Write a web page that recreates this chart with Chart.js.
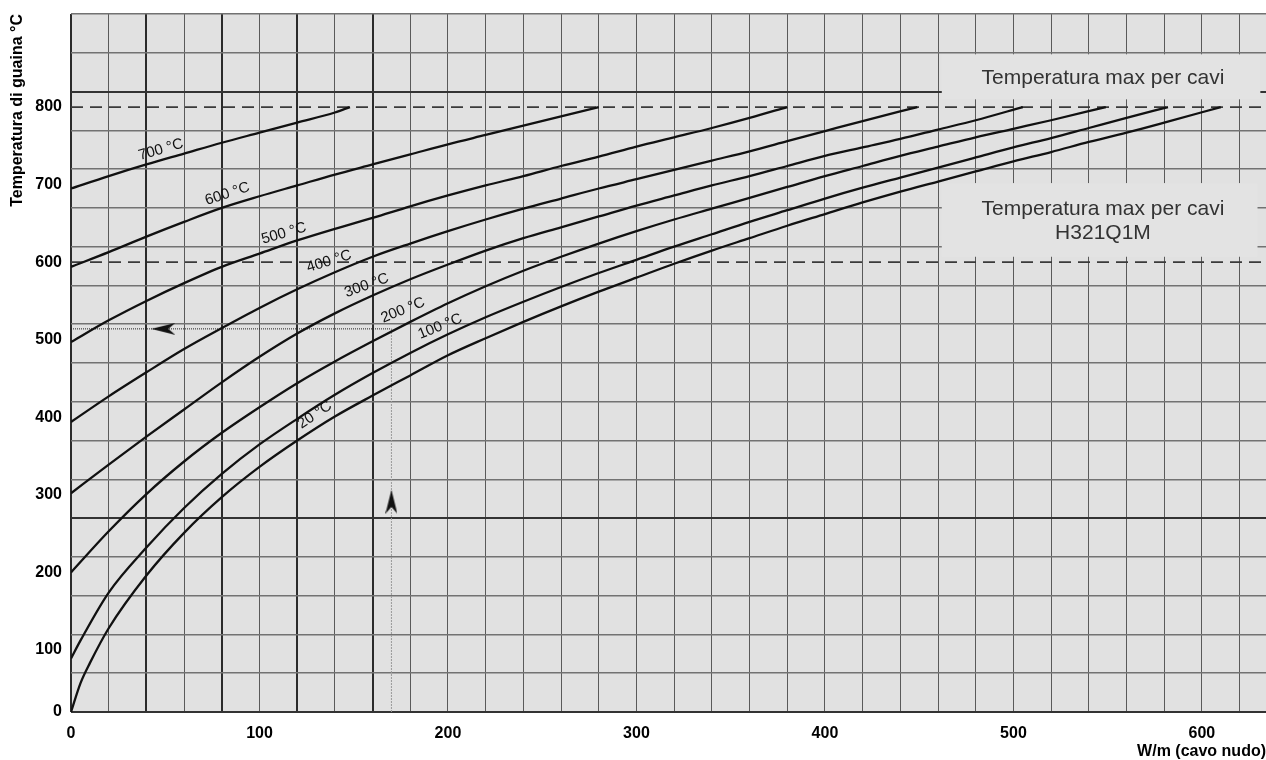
<!DOCTYPE html>
<html>
<head>
<meta charset="utf-8">
<script src="https://cdn.jsdelivr.net/npm/chart.js@4.4.1/dist/chart.umd.min.js"></script>
<style>
  html, body { margin: 0; padding: 0; background: #fff; overflow: hidden; }
  #chart { display: block; }
</style>
</head>
<body>
<canvas id="chart" width="1266" height="760"></canvas>
<script>
// sheath temperature (°C) against power (W/m), one curve per ambient temperature
const w700 = [0, 20, 40, 60, 80, 100, 120, 140, 148]
const t700 = [695, 711, 726, 740, 754, 767, 780, 793, 800]

const w600 = [0, 20, 40, 60, 80, 100, 120, 140, 160, 180, 200, 220, 240, 260, 280]
const t600 = [594, 613, 633, 652, 670, 685, 699, 713, 726, 739, 752, 764, 776, 788, 800]

const w500 = [0, 20, 40, 60, 80, 100, 120, 140, 160, 180, 200, 220, 240, 260, 280, 300, 320, 340, 360, 380]
const t500 = [497, 525, 550, 573, 594, 611, 628, 643, 657, 672, 686, 699, 711, 724, 736, 749, 761, 773, 786, 800]

const w400 = [0, 20, 40, 60, 80, 100, 120, 140, 160, 180, 200, 220, 240, 260, 280, 300, 320, 340, 360, 380, 400, 420, 449]
const t400 = [394, 427, 458, 488, 515, 541, 565, 587, 607, 624, 640, 655, 669, 682, 695, 707, 719, 731, 743, 756, 769, 782, 800]

const w300 = [0, 20, 40, 60, 80, 100, 120, 140, 160, 180, 200, 220, 240, 260, 280, 300, 320, 340, 360, 380, 400, 420, 440, 460, 480, 505]
const t300 = [302, 339, 375, 410, 445, 478, 508, 534, 557, 578, 597, 615, 631, 645, 659, 673, 686, 699, 711, 724, 737, 748, 759, 771, 783, 800]

const w200 = [0, 20, 40, 60, 80, 100, 120, 140, 160, 180, 200, 220, 240, 260, 280, 300, 320, 340, 360, 380, 400, 420, 440, 460, 480, 500, 520, 549]
const t200 = [200, 253, 301, 343, 380, 413, 444, 472, 498, 523, 547, 569, 589, 607, 624, 640, 655, 669, 683, 697, 711, 724, 737, 749, 761, 772, 783, 800]

const w100 = [0, 5, 20, 40, 60, 80, 100, 120, 140, 160, 180, 200, 220, 240, 260, 280, 300, 320, 340, 360, 380, 400, 420, 440, 460, 480, 500, 520, 540, 560, 582]
const t100 = [89, 112, 174, 232, 283, 327, 365, 398, 429, 457, 483, 507, 529, 549, 568, 586, 603, 620, 636, 652, 667, 682, 696, 709, 722, 735, 748, 760, 773, 786, 800]

const w20 = [0, 5, 10, 20, 40, 60, 80, 100, 120, 140, 160, 180, 200, 220, 240, 260, 280, 300, 320, 340, 360, 380, 400, 420, 440, 460, 480, 500, 520, 540, 560, 580, 610]
const t20 = [20, 57, 83, 128, 196, 251, 297, 336, 370, 401, 428, 454, 480, 502, 523, 543, 562, 580, 598, 615, 631, 647, 662, 677, 691, 704, 717, 730, 742, 755, 767, 780, 800]

const curves = [[w700, t700], [w600, t600], [w500, t500], [w400, t400], [w300, t300], [w200, t200], [w100, t100], [w20, t20]]
const curveNames = ['700 °C', '600 °C', '500 °C', '400 °C', '300 °C', '200 °C', '100 °C', '20 °C']

// max cable temperatures (dashed)
const limitTemps = [800, 600]

// worked example: 170 W/m read on the 200 °C curve
const exampleW = 170
const exampleT = 514
const arrowW = [49, 170]
const arrowT = [514, 291]
const arrowRot = [-90, 0]

// axes
const xMin = 0
const xMax = 634
const yMin = 20
const yMax = 920
const xGrid = []
for (let w = 0; w <= 620; w += 20) xGrid.push(w)
const xThick = [0, 40, 80, 120, 160]
const yTickValues = [20, 100, 200, 300, 400, 500, 600, 700, 800]
const yTickLabels = ['0', '100', '200', '300', '400', '500', '600', '700', '800']
const yGrid = []
for (let t = yMin; t <= yMax; t += 50) yGrid.push(t)
const yThick = [20, 270, 820]

// label anchors in data units
const labelW = [47.7, 83, 113, 136.9, 156.9, 176.1, 195.8, 129.4]
const labelT = [745, 688, 637, 601, 570, 538, 517, 403]
const labelAngle = [-16, -18, -16, -17, -20, -22, -22, -34]

const noteBoxes = [
    { w0: 462, w1: 631, t0: 810, t1: 868, lines: ['Temperatura max per cavi'] },
    { w0: 462, w1: 629.5, t0: 607, t1: 702, lines: ['Temperatura max per cavi', 'H321Q1M'] },
]

Chart.defaults.font.family = "'Liberation Sans', Arial, sans-serif"
Chart.defaults.color = '#000'

function toPoints(xs, ys) {
    return xs.map((x, i) => ({ x: x, y: ys[i] }))
}

// arrow head image, pointing up
const arrowImg = document.createElement('canvas')
arrowImg.width = 12
arrowImg.height = 24
{
    const c = arrowImg.getContext('2d')
    c.fillStyle = '#111'
    c.beginPath()
    c.moveTo(6, 0)
    c.lineTo(12, 24)
    c.lineTo(6, 17)
    c.lineTo(0, 24)
    c.closePath()
    c.fill()
}

const datasets = []
curves.forEach((c, i) => {
    datasets.push({
        label: curveNames[i],
        data: toPoints(c[0], c[1]),
        borderColor: '#111',
        borderWidth: 2.3,
        pointRadius: 0,
        cubicInterpolationMode: 'monotone',
        fill: false,
        order: 1,
    })
})
limitTemps.forEach((t) => {
    datasets.push({
        label: 'max ' + t,
        data: [{ x: xMin, y: t }, { x: xMax, y: t }],
        borderColor: '#3a3a3a',
        borderWidth: 1.8,
        borderDash: [12, 7],
        pointRadius: 0,
        order: 2,
    })
})
datasets.push({
    label: 'example h',
    data: [{ x: xMin, y: exampleT }, { x: exampleW, y: exampleT }],
    borderColor: '#222',
    borderWidth: 1,
    borderDash: [1, 1],
    pointRadius: 0,
    order: 3,
})
datasets.push({
    label: 'example v',
    data: [{ x: exampleW, y: yMin }, { x: exampleW, y: exampleT }],
    borderColor: '#9a9a9a',
    borderWidth: 1,
    borderDash: [2, 1],
    pointRadius: 0,
    order: 3,
})
datasets.push({
    type: 'scatter',
    label: 'arrows',
    data: toPoints(arrowW, arrowT),
    pointStyle: arrowImg,
    rotation: arrowRot,
    pointRadius: 6,
    showLine: false,
    order: 0,
})

const plotBg = {
    id: 'plotBg',
    beforeDraw(chart) {
        const { ctx, chartArea: a } = chart
        ctx.save()
        ctx.fillStyle = '#e1e1e1'
        ctx.fillRect(a.left, a.top, a.width, a.height)
        ctx.restore()
    }
}

const notes = {
    id: 'notes',
    beforeDatasetsDraw(chart) {
        const { ctx, scales } = chart
        ctx.save()
        noteBoxes.forEach((b) => {
            const x0 = scales.x.getPixelForValue(b.w0)
            const x1 = scales.x.getPixelForValue(b.w1)
            const y0 = scales.y.getPixelForValue(b.t1)
            const y1 = scales.y.getPixelForValue(b.t0)
            ctx.fillStyle = '#e3e3e3'
            ctx.fillRect(x0, y0, x1 - x0, y1 - y0)
            ctx.fillStyle = '#333'
            ctx.font = "21px 'Liberation Sans', Arial, sans-serif"
            ctx.textAlign = 'center'
            ctx.textBaseline = 'middle'
            const cx = scales.x.getPixelForValue(547.5)
            const cy = (y0 + y1) / 2
            b.lines.forEach((line, i) => {
                ctx.fillText(line, cx, cy + (i - (b.lines.length - 1) / 2) * 24 + 1)
            })
        })
        ctx.restore()
    },
    afterDatasetsDraw(chart) {
        const { ctx, scales } = chart
        ctx.save()
        ctx.fillStyle = '#111'
        ctx.font = "15px 'Liberation Sans', Arial, sans-serif"
        ctx.textAlign = 'center'
        ctx.textBaseline = 'middle'
        curveNames.forEach((name, i) => {
            ctx.save()
            ctx.translate(scales.x.getPixelForValue(labelW[i]), scales.y.getPixelForValue(labelT[i]))
            ctx.rotate(labelAngle[i] * Math.PI / 180)
            ctx.fillText(name, 0, 0)
            ctx.restore()
        })
        ctx.restore()
    }
}

function noPadX(axis, h) {
    axis.height = h
    axis.paddingLeft = 0
    axis.paddingRight = 0
}

function noPadY(axis, w) {
    axis.width = w
    axis.paddingTop = 0
    axis.paddingBottom = 0
}

const ctx = document.getElementById('chart')
new Chart(ctx, {
    type: 'line',
    data: { datasets: datasets },
    plugins: [plotBg, notes],
    options: {
        responsive: false,
        animation: false,
        devicePixelRatio: 1,
        layout: { autoPadding: false, padding: { top: 14, left: 0, right: 0, bottom: 0 } },
        plugins: {
            legend: { display: false },
            tooltip: { enabled: false },
        },
        scales: {
            x: {
                type: 'linear',
                min: xMin,
                max: xMax,
                afterBuildTicks: (axis) => { axis.ticks = xGrid.map((v) => ({ value: v })) },
                afterFit: (axis) => noPadX(axis, 48),
                border: { display: false },
                grid: {
                    drawTicks: false,
                    color: (c) => (c.tick && xThick.includes(c.tick.value)) ? '#2b2b2b' : '#5a5a5a',
                    lineWidth: (c) => (c.tick && xThick.includes(c.tick.value)) ? 2 : 1,
                },
                ticks: {
                    autoSkip: false,
                    maxRotation: 0,
                    padding: 12,
                    font: { size: 16, weight: 'bold' },
                    callback: (v) => (v % 100 === 0 ? String(v) : ''),
                },
                title: {
                    display: true,
                    text: 'W/m (cavo nudo)',
                    align: 'end',
                    font: { size: 16, weight: 'bold', lineHeight: 1 },
                    padding: { top: 0, bottom: 0 },
                },
            },
            y: {
                type: 'linear',
                position: 'left',
                min: yMin,
                max: yMax,
                afterBuildTicks: (axis) => { axis.ticks = yTickValues.map((v) => ({ value: v })) },
                afterFit: (axis) => noPadY(axis, 71),
                border: { display: false },
                grid: { display: false, drawTicks: false },
                ticks: {
                    padding: 9,
                    font: { size: 16, weight: 'bold' },
                    callback: (v, i) => yTickLabels[i],
                },
                title: {
                    display: true,
                    text: 'Temperatura di guaina °C',
                    align: 'end',
                    font: { size: 16, weight: 'bold', lineHeight: 1 },
                    padding: { top: 10, bottom: 0 },
                },
            },
            yGrid: {
                type: 'linear',
                position: 'left',
                min: yMin,
                max: yMax,
                afterBuildTicks: (axis) => { axis.ticks = yGrid.map((v) => ({ value: v })) },
                afterFit: (axis) => noPadY(axis, 0),
                border: { display: false },
                grid: {
                    drawTicks: false,
                    color: (c) => (c.tick && yThick.includes(c.tick.value)) ? '#333' : '#727272',
                    lineWidth: (c) => (c.tick && yThick.includes(c.tick.value)) ? 2 : 1.5,
                },
                ticks: { display: false },
            },
        },
    },
})
</script>
</body>
</html>
